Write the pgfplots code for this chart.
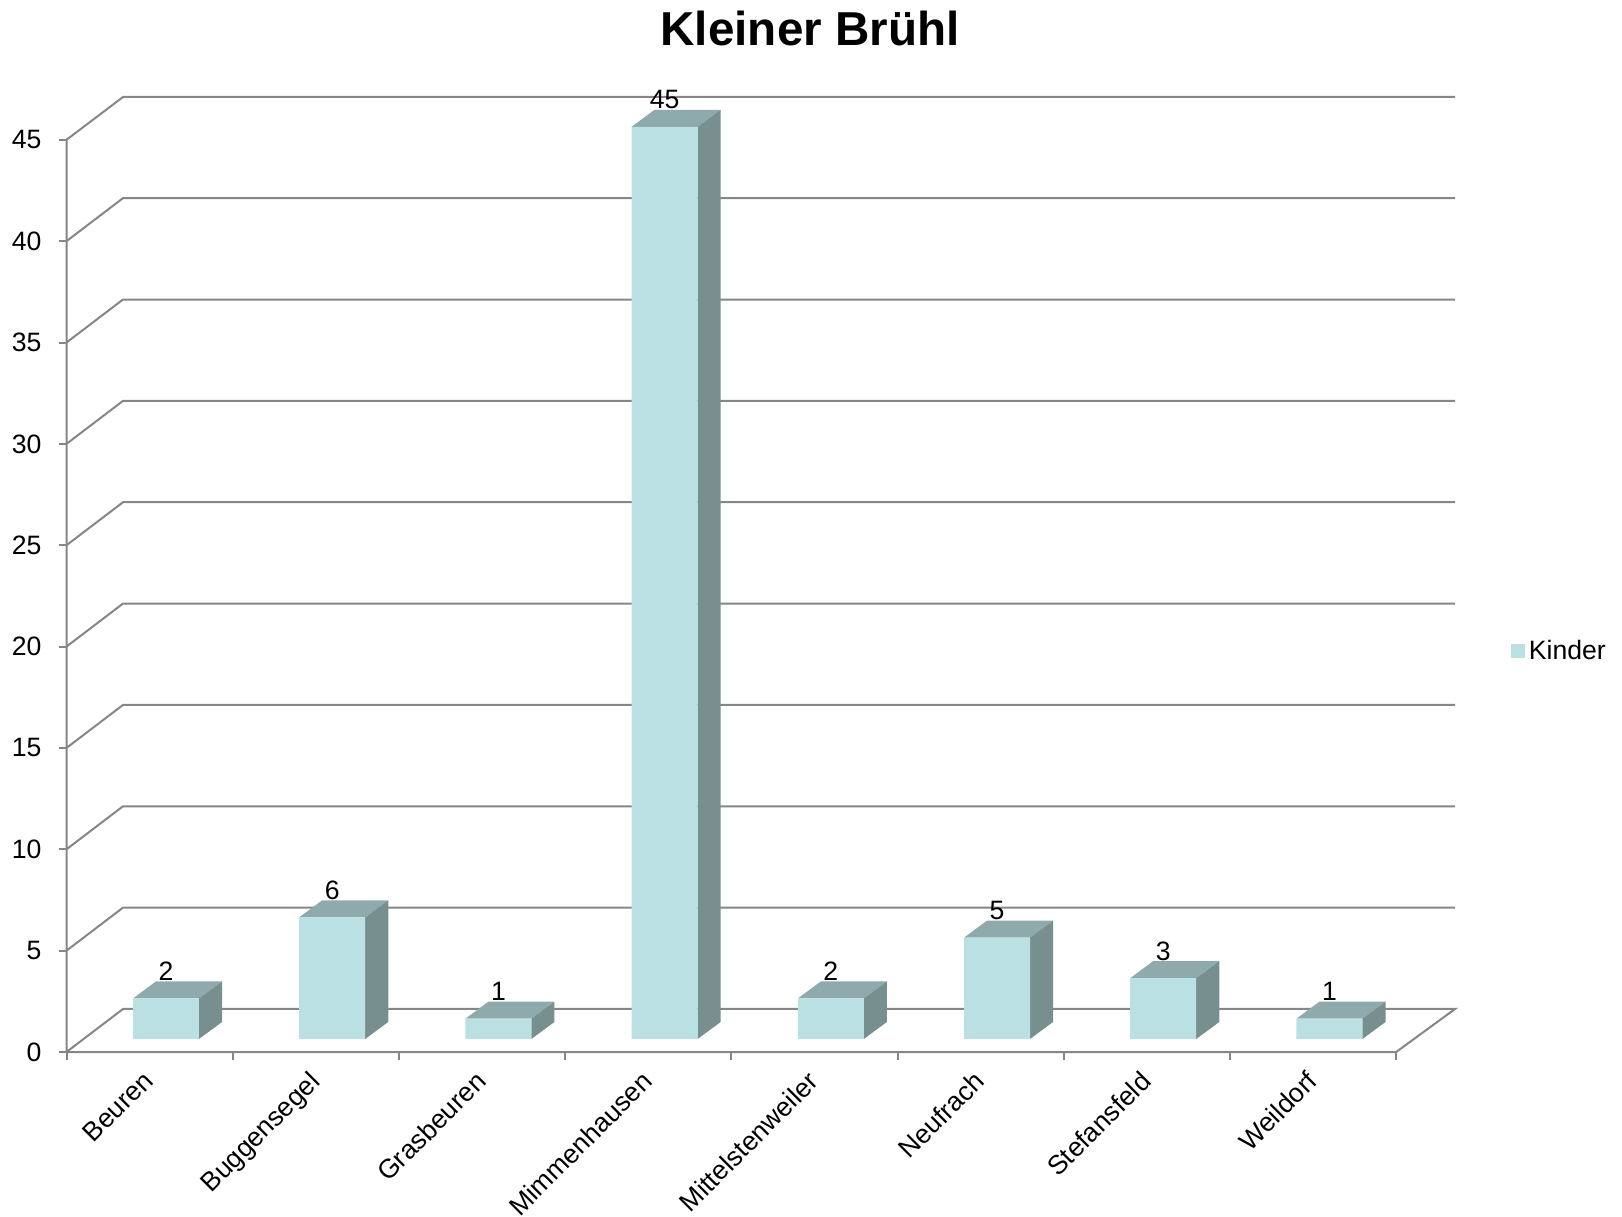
\documentclass[border=0pt]{standalone}
\usepackage{fontspec}
\setmainfont{Liberation Sans}
\usepackage{pgfplots}
\usepackage{pgfplotstable}
\pgfplotsset{compat=1.18}
\definecolor{barfront}{HTML}{BBE0E3}
\definecolor{bartop}{HTML}{8FAAAC}
\definecolor{barside}{HTML}{788F90}
\definecolor{gridgray}{HTML}{868686}
\newcommand{\lblfont}{\fontsize{13.3}{15}\selectfont}
% bar position (front centre, in categories) and number of Kinder
\pgfplotstableread{
pos    kinder
0.5985 2
1.5985 6
2.5985 1
3.5985 45
4.5985 2
5.5985 5
6.5985 3
7.5985 1
}\kinder
\begin{document}
\begin{tikzpicture}
\path[use as bounding box] (0,0) rectangle (811pt,608pt);
\begin{axis}[
  at={(33.25pt,82pt)}, anchor=south west,
  scale only axis, width=694.25pt, height=477.5pt,
  xmin=0, xmax=8.354, ymin=-0.642, ymax=46.47,
  clip=false,
  axis lines=left,
  axis line style={draw=none},
  unbounded coords=jump,
  /pgf/number format/assume math mode=true,
  tick align=outside,
  major tick length=4pt,
  tick style={color=gridgray, line width=1pt},
  xtick={0,1,...,8},
  xticklabels={Beuren,Buggensegel,Grasbeuren,Mimmenhausen,Mittelstenweiler,Neufrach,Stefansfeld,Weildorf,{}},
  xticklabel style={rotate=45, anchor=north east, xshift=26.6pt, yshift=-26.5pt, font=\lblfont},
  ytick={-0.642,4.358,9.358,14.358,19.358,24.358,29.358,34.358,39.358,44.358},
  yticklabels={0,5,10,15,20,25,30,35,40,45},
  yticklabel style={font=\lblfont, xshift=-5pt},
  title={Kleiner Brühl},
  title style={at={(axis description cs:0.5355,1.0415)}, anchor=base, inner sep=0pt,
    font=\fontsize{23.8}{28}\selectfont\bfseries},
  legend style={at={(axis description cs:1.040,0.4195)}, anchor=west, draw=none, fill=none,
    inner sep=0pt, font=\lblfont, /tikz/every even column/.append style={column sep=0pt}},
  legend image code/.code={\fill[barfront] (0cm,-3.5pt) rectangle (7pt,3.5pt);},
]
% back wall, side wall and floor
\addplot[gridgray, line width=1pt, forget plot] coordinates {
  (0,-0.642) (0,44.358) (nan,nan)
  (0,-0.642) (0.34,1.48) (8.354,1.48) (8,-0.642) (0,-0.642) (nan,nan)
  (0,4.358) (0.34,6.48) (8.354,6.48) (nan,nan)
  (0,9.358) (0.34,11.48) (8.354,11.48) (nan,nan)
  (0,14.358) (0.34,16.48) (8.354,16.48) (nan,nan)
  (0,19.358) (0.34,21.48) (8.354,21.48) (nan,nan)
  (0,24.358) (0.34,26.48) (8.354,26.48) (nan,nan)
  (0,29.358) (0.34,31.48) (8.354,31.48) (nan,nan)
  (0,34.358) (0.34,36.48) (8.354,36.48) (nan,nan)
  (0,39.358) (0.34,41.48) (8.354,41.48) (nan,nan)
  (0,44.358) (0.34,46.47) (8.354,46.47)
};
% top faces
\addplot[fill=bartop, draw=none, forget plot] coordinates {(0.400,2) (0.538,2.84) (0.936,2.84) (0.797,2)} -- cycle;
\addplot[fill=bartop, draw=none, forget plot] coordinates {(1.400,6) (1.538,6.84) (1.936,6.84) (1.797,6)} -- cycle;
\addplot[fill=bartop, draw=none, forget plot] coordinates {(2.400,1) (2.538,1.84) (2.936,1.84) (2.797,1)} -- cycle;
\addplot[fill=bartop, draw=none, forget plot] coordinates {(3.400,45) (3.538,45.84) (3.936,45.84) (3.797,45)} -- cycle;
\addplot[fill=bartop, draw=none, forget plot] coordinates {(4.400,2) (4.538,2.84) (4.936,2.84) (4.797,2)} -- cycle;
\addplot[fill=bartop, draw=none, forget plot] coordinates {(5.400,5) (5.538,5.84) (5.936,5.84) (5.797,5)} -- cycle;
\addplot[fill=bartop, draw=none, forget plot] coordinates {(6.400,3) (6.538,3.84) (6.936,3.84) (6.797,3)} -- cycle;
\addplot[fill=bartop, draw=none, forget plot] coordinates {(7.400,1) (7.538,1.84) (7.936,1.84) (7.797,1)} -- cycle;
% side faces
\addplot[fill=barside, draw=none, forget plot] coordinates {(0.797,0) (0.936,0.84) (0.936,2.84) (0.797,2)} -- cycle;
\addplot[fill=barside, draw=none, forget plot] coordinates {(1.797,0) (1.936,0.84) (1.936,6.84) (1.797,6)} -- cycle;
\addplot[fill=barside, draw=none, forget plot] coordinates {(2.797,0) (2.936,0.84) (2.936,1.84) (2.797,1)} -- cycle;
\addplot[fill=barside, draw=none, forget plot] coordinates {(3.797,0) (3.936,0.84) (3.936,45.84) (3.797,45)} -- cycle;
\addplot[fill=barside, draw=none, forget plot] coordinates {(4.797,0) (4.936,0.84) (4.936,2.84) (4.797,2)} -- cycle;
\addplot[fill=barside, draw=none, forget plot] coordinates {(5.797,0) (5.936,0.84) (5.936,5.84) (5.797,5)} -- cycle;
\addplot[fill=barside, draw=none, forget plot] coordinates {(6.797,0) (6.936,0.84) (6.936,3.84) (6.797,3)} -- cycle;
\addplot[fill=barside, draw=none, forget plot] coordinates {(7.797,0) (7.936,0.84) (7.936,1.84) (7.797,1)} -- cycle;
% front faces
\addplot[ybar, bar width=33pt, fill=barfront, draw=none,
  nodes near coords,
  nodes near coords style={font=\lblfont, anchor=base, yshift=9pt, inner sep=0pt}]
  table[x=pos, y=kinder] {\kinder};
\addlegendentry{Kinder}
\end{axis}
\end{tikzpicture}
\end{document}
